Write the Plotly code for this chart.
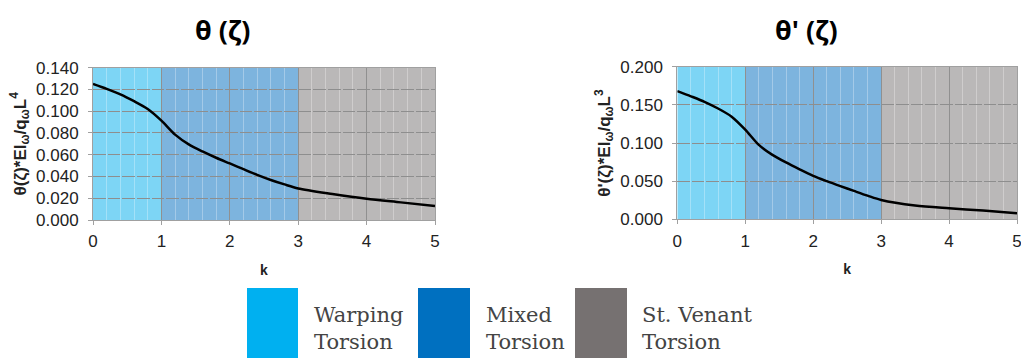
import plotly.graph_objects as go

# ---- data ----
k_vals = [0, 0.2, 0.4, 0.6, 0.8, 1.0, 1.2, 1.4, 1.6, 1.8, 2.0, 2.2, 2.4, 2.6, 2.8, 3.0, 3.5, 4.0, 4.5, 5.0]
theta = [0.125, 0.1205, 0.1155, 0.1092, 0.1020, 0.0913, 0.0785, 0.0695, 0.0630, 0.0572, 0.0520,
         0.0467, 0.0415, 0.0368, 0.0327, 0.0290, 0.0239, 0.0195, 0.0162, 0.0129]
theta_p = [0.168, 0.1612, 0.1540, 0.1452, 0.1345, 0.1175, 0.0975, 0.0845, 0.0745, 0.0655, 0.0570,
           0.0500, 0.0435, 0.0372, 0.0310, 0.0253, 0.0180, 0.0144, 0.0114, 0.0079]
zones = ["Warping<br>Torsion", "Mixed<br>Torsion", "St. Venant<br>Torsion"]
zone_bounds = [(0, 1), (1, 3), (3, 5)]
zone_bg = ["#7DD5F5", "#7DB4DE", "#BAB8B8"]
zone_legend = ["#00B0F0", "#0070C0", "#767171"]
titles = ["θ (ζ)", "θ' (ζ)"]
ytitles = ["θ(ζ)*EI<sub>ω</sub>/q<sub>ω</sub>L<sup>4</sup>",
           "θ'(ζ)*EI<sub>ω</sub>/q<sub>ω</sub>L<sup>3</sup>"]
x_ticks = [0, 1, 2, 3, 4, 5]
y1_ticks = [0.0, 0.02, 0.04, 0.06, 0.08, 0.10, 0.12, 0.14]
y2_ticks = [0.0, 0.05, 0.10, 0.15, 0.20]

W, H = 1021, 358
def px_x(a, b): return [a / W, b / W]
def px_y(top, bot): return [1 - bot / H, 1 - top / H]

fig = go.Figure()
fig.add_trace(go.Scatter(x=k_vals, y=theta, mode="lines",
                         line=dict(color="black", width=2.5, shape="spline", smoothing=0.8),
                         xaxis="x", yaxis="y", showlegend=False, hoverinfo="skip"))
fig.add_trace(go.Scatter(x=k_vals, y=theta_p, mode="lines",
                         line=dict(color="black", width=2.5, shape="spline", smoothing=0.8),
                         xaxis="x2", yaxis="y2", showlegend=False, hoverinfo="skip"))

font = dict(family="Arial, Liberation Sans, sans-serif", color="#222", size=17)
axis_common = dict(showline=True, linecolor="#A0A0A0", mirror=True, ticks="outside", ticklen=4,
                   tickcolor="#A0A0A0", tickfont=font, zeroline=False, automargin=False,
                   ticklabeloverflow="allow")
xcommon = dict(axis_common, range=[0, 5], tickvals=x_ticks, showgrid=True, gridcolor="#909090", gridwidth=1.2,
               ticklabelstandoff=2,
               minor=dict(dtick=0.2, tick0=0, showgrid=True, gridcolor="rgba(255,255,255,0.3)", gridwidth=1),
               title=dict(text="<b>k</b>", font=dict(size=14, family="Arial", color="#222"), standoff=14))
ytitle_font = dict(size=17, family="Arial", color="#222")

fig.update_layout(
    width=W, height=H, margin=dict(l=0, r=0, t=0, b=0, autoexpand=False),
    paper_bgcolor="white", plot_bgcolor="white",
    xaxis=dict(xcommon, domain=px_x(93, 435), anchor="y"),
    yaxis=dict(axis_common, domain=px_y(67.7, 220), range=[0, 0.14], tickvals=y1_ticks, tickformat=".3f",
               ticklabelstandoff=6,
               showgrid=True, gridcolor="#8E8E8E", griddash="12.68px,2px", gridwidth=1.3, anchor="x",
               title=dict(text="<b>" + ytitles[0] + "</b>", font=ytitle_font, standoff=5)),
    xaxis2=dict(xcommon, domain=px_x(677.3, 1017), anchor="y2"),
    yaxis2=dict(axis_common, domain=px_y(66.7, 219.3), range=[0, 0.2], tickvals=y2_ticks, tickformat=".3f",
                ticklabelstandoff=6,
                showgrid=True, gridcolor="#8E8E8E", griddash="12.59px,2px", gridwidth=1.3, anchor="x2",
                title=dict(text="<b>" + ytitles[1] + "</b>", font=ytitle_font, standoff=5)),
)

for xr, yr in [("x", "y domain"), ("x2", "y2 domain")]:
    for (a, b), c in zip(zone_bounds, zone_bg):
        fig.add_shape(type="rect", xref=xr, yref=yr, x0=a, x1=b, y0=0, y1=1, fillcolor=c,
                      line=dict(width=0), layer="below")

# titles
for t, xc in zip(titles, [222, 806]):
    fig.add_annotation(text="<b>" + t + "</b>", x=xc / W, y=1 - 30 / H, xref="paper", yref="paper",
                       xanchor="center", yanchor="middle",
                       showarrow=False, font=dict(size=27, family="Open Sans, Arial", color="black"))

# legend
box_x = [(247, 298), (418, 470), (575, 627)]
text_x = [312, 484, 640]
for (a, b), c, t, tx in zip(box_x, zone_legend, zones, text_x):
    fig.add_shape(type="rect", xref="paper", yref="paper", x0=a / W, x1=b / W, y0=0, y1=1 - 288 / H,
                  fillcolor=c, line=dict(width=0))
    fig.add_annotation(text=t, x=tx / W, y=1 - 328 / H, xref="paper", yref="paper", xanchor="left",
                       yanchor="middle", showarrow=False, align="left",
                       font=dict(size=21, family="DejaVu Serif, Liberation Serif, serif", color="#444"))

fig.write_html("out.html", config={"displayModeBar": False},
               post_script="document.body.style.margin='0';document.body.style.overflow='hidden';")
